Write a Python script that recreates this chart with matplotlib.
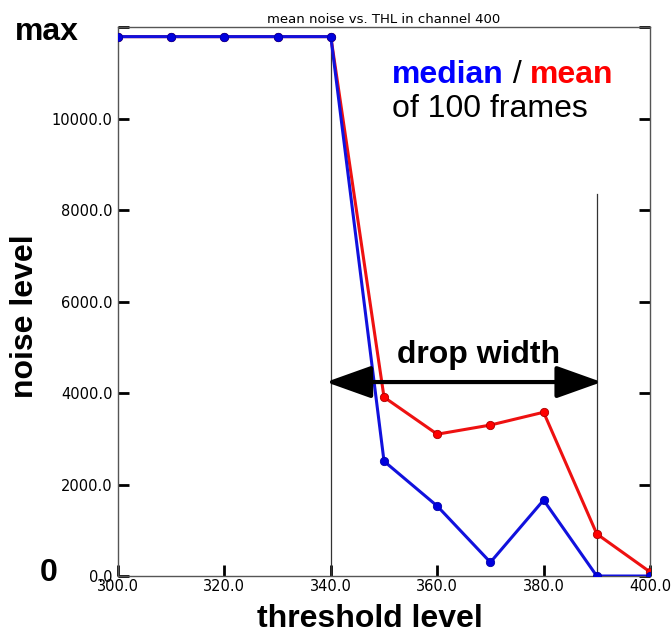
import matplotlib.pyplot as plt

# ----------------------------------------
# DATA
# ----------------------------------------
thl = [300, 310, 320, 330, 340, 350, 360, 370, 380, 390, 400]
median_noise = [11790, 11790, 11790, 11790, 11790, 2510, 1530, 300, 1660, 0, 0]
mean_noise = [11790, 11790, 11790, 11790, 11790, 3910, 3100, 3300, 3580, 920, 90]

y_ticks = [0, 2000, 4000, 6000, 8000, 10000, 12000]
y_ticklabels = ["0.0", "2000.0", "4000.0", "6000.0", "8000.0", "10000.0", ""]
x_ticks = [300, 320, 340, 360, 380, 400]
x_ticklabels = ["300.0", "320.0", "340.0", "360.0", "380.0", "400.0"]

drop_start, drop_end = 340, 390
drop_y = 4240
marker_top = 8360

BOLD_FONT = ["Liberation Sans Narrow", "Liberation Sans", "DejaVu Sans"]
TEXT_FONT = ["Liberation Sans", "DejaVu Sans"]

# ----------------------------------------
# PLOT
# ----------------------------------------
fig = plt.figure(figsize=(6.71, 6.33), dpi=100)
ax = fig.add_axes([0.1759, 0.0900, 0.7928, 0.8673])

ax.plot(thl, mean_noise, color="#ee1111", lw=2.2, marker="o", ms=6,
        mfc="red", mec="#aa0000", mew=0.6, zorder=3)
ax.plot(thl, median_noise, color="#1111dd", lw=2.2, marker="o", ms=6,
        mfc="#0000dd", mec="#0000aa", mew=0.6, zorder=4)

# drop markers
ax.plot([drop_start, drop_start], [0, max(median_noise)], color="#333333", lw=0.9, zorder=2)
ax.plot([drop_end, drop_end], [0, marker_top], color="#333333", lw=0.9, zorder=2)

ax.annotate("", xy=(drop_start - 0.9, drop_y), xytext=(drop_end + 0.9, drop_y),
            arrowprops=dict(arrowstyle="<|-|>,head_length=1.4,head_width=0.5",
                            mutation_scale=20, lw=3, color="black",
                            shrinkA=0, shrinkB=0), zorder=5)
ax.text(367.8, 4830, "drop width", ha="center", va="center",
        fontsize=23, fontweight="bold", family=TEXT_FONT)

ax.set_xlim(300, 400)
ax.set_ylim(0, 12000)
ax.set_xticks(x_ticks)
ax.set_xticklabels(x_ticklabels)
ax.set_yticks(y_ticks)
ax.set_yticklabels(y_ticklabels)
ax.tick_params(direction="in", length=8, width=2, labelsize=10.5, pad=2,
               right=True, top=False)
ax.tick_params(axis="y", pad=4)
for side in ["top", "bottom", "left", "right"]:
    ax.spines[side].set_color("#555555")
    ax.spines[side].set_linewidth(1.0)

ax.set_title("mean noise vs. THL in channel 400", fontsize=9.5, pad=3)

# axis labels as figure text (offset like the original)
fig.text(370 / 671, 1 - 619 / 633, "threshold level", ha="center", va="center",
         fontsize=23, fontweight="bold", family=BOLD_FONT)
fig.text(25 / 671, 1 - 316 / 633, "noise level", rotation=90, ha="center",
         va="center", fontsize=23, fontweight="bold", family=BOLD_FONT)

fig.text(47 / 671, 1 - 32 / 633, "max", ha="center", va="center", fontsize=23,
         fontweight="bold", family=TEXT_FONT)
fig.text(49 / 671, 1 - 573 / 633, "0", ha="center", va="center", fontsize=23,
         fontweight="bold", family=TEXT_FONT)

# legend-like annotation
t1 = ax.text(0.515, 0.912, "median", transform=ax.transAxes, color="blue",
             fontsize=23, fontweight="bold", family=TEXT_FONT, va="center")
fig.canvas.draw()
t2 = ax.annotate(" / ", xycoords=t1, xy=(1, 0.5), va="center", fontsize=23,
                 family=TEXT_FONT)
t3 = ax.annotate("mean", xycoords=t2, xy=(1, 0.5), va="center", color="red",
                 fontsize=23, fontweight="bold", family=TEXT_FONT)
ax.text(0.515, 0.850, "of 100 frames", transform=ax.transAxes, fontsize=23,
        family=TEXT_FONT, va="center")

plt.savefig("out.png", dpi=100)
